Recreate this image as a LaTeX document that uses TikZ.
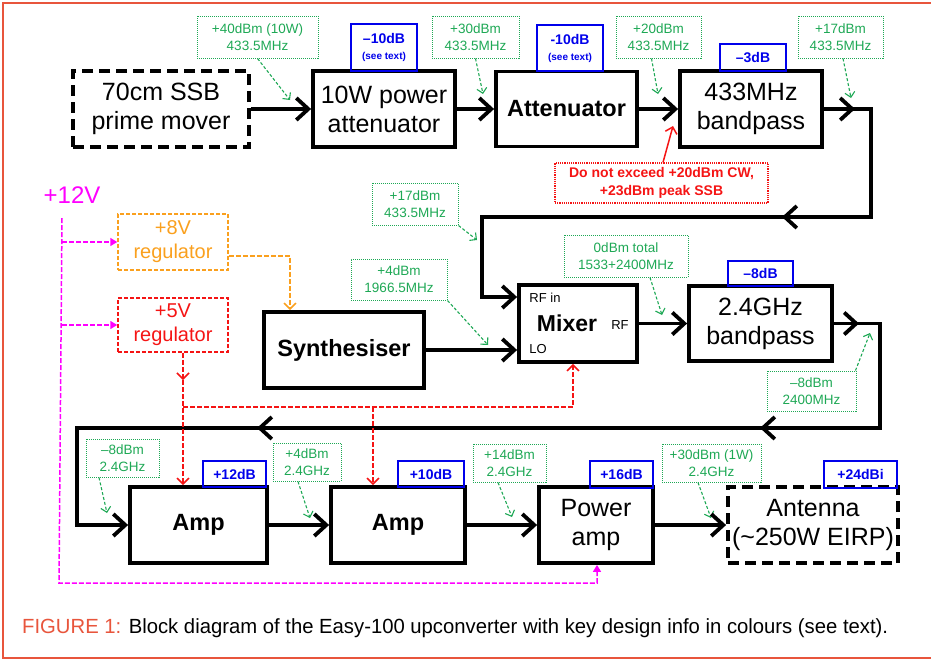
\documentclass[tikz,border=0pt]{standalone}
\usepackage{fontspec}
\setmainfont{Liberation Sans}
\usepackage{graphicx}
\usetikzlibrary{arrows.meta}
\definecolor{frameC}{RGB}{232,85,60}
\definecolor{gC}{RGB}{30,168,85}
\definecolor{bC}{RGB}{0,0,235}
\definecolor{mC}{RGB}{255,0,255}
\definecolor{oC}{RGB}{250,160,30}
\definecolor{rC}{RGB}{245,20,20}
\tikzset{
  blk/.style={draw, line width=3.8pt, align=center, inner sep=0pt, font=\fontsize{25}{29}\selectfont},
  blkb/.style={blk, font=\bfseries\fontsize{23.5}{28}\selectfont},
  dblk/.style={blk, dash pattern=on 11pt off 6pt},
  bl/.style={draw=bC, line width=1.8pt, text=bC, font=\bfseries\fontsize{14}{15}\selectfont, inner sep=0pt, align=center},
  gl/.style={draw=gC, densely dotted, line width=1pt, text=gC, font=\fontsize{13.5}{17}\selectfont, align=center, inner sep=0pt},
  ga/.style={gC, densely dashed, line width=1.1pt, -{Straight Barb[length=5pt,width=10pt]}},
  sig/.style={line width=3.8pt, line join=miter},
  sigarr/.style={sig, -{Straight Barb[length=12pt,width=22pt]}},
  reg/.style={dash pattern=on 4pt off 2pt, line width=1.5pt, align=center, inner sep=0pt, font=\fontsize{20}{24}\selectfont},
  pw/.style={mC, dash pattern=on 5pt off 2pt, line width=1.5pt},
  pwa/.style={pw, -{Triangle[length=7pt,width=8pt]}},
  oa/.style={oC, dash pattern=on 5pt off 2pt, line width=1.5pt, -{Straight Barb[length=6pt,width=12pt]}},
  ra/.style={rC, dash pattern=on 5pt off 2pt, line width=1.5pt},
  rda/.style={ra, -{Straight Barb[length=6pt,width=12pt]}},
  txt/.style={inner sep=0pt}
}
\begin{document}
\begin{tikzpicture}[x=1pt,y=-1pt]
\useasboundingbox (0,0) rectangle (931,662);
% frame
\draw[frameC, line width=2.5pt] (931,3) -- (3,3) -- (3,658) -- (931,658);

% main blocks
\node[dblk, minimum width=176pt, minimum height=76pt] (prime) at (161,109) {70cm SSB\\prime mover};
\node[blk, minimum width=142pt, minimum height=76pt] (pwratt) at (384,109) {10W power\\attenuator};
\node[blkb, minimum width=141pt, minimum height=75pt] (att) at (566.5,109) {Attenuator};
\node[blk, minimum width=142pt, minimum height=76pt] (bp433) at (751,109) {433MHz\\bandpass};
\node[blk, minimum width=118pt, minimum height=77pt] (mixer) at (578,323.5) {};
\node[blkb, minimum width=160pt, minimum height=76pt] (synth) at (344,350) {Synthesiser};
\node[blk, minimum width=143pt, minimum height=75pt] (bp24) at (760.5,323.5) {2.4GHz\\bandpass};
\node[blkb, minimum width=137pt, minimum height=76pt] (amp1) at (198.5,525) {Amp};
\node[blkb, minimum width=134pt, minimum height=76pt] (amp2) at (398,525) {Amp};
\node[blk, minimum width=114pt, minimum height=76pt] (pamp) at (596,525) {Power\\amp};
\node[dblk, minimum width=170pt, minimum height=76pt] (ant) at (813,525) {Antenna\\(\textasciitilde250W EIRP)};

% mixer texts
\node[txt, font=\bfseries\fontsize{23}{27}\selectfont] (mixt) at (567,323) {Mixer};
\node[txt, font=\fontsize{13}{15}\selectfont] (rfin) at (545,297.5) {RF in};
\node[txt, font=\fontsize{13}{15}\selectfont] (rfout) at (620,325) {RF};
\node[txt, font=\fontsize{13}{15}\selectfont] (lo) at (538,349) {LO};

% blue labels
\node[bl, minimum width=66pt, minimum height=47pt] (b1) at (384,47.5) {–10dB\\[1pt]{\fontsize{10}{11}\selectfont (see text)}};
\node[bl, minimum width=66pt, minimum height=46pt] (b2) at (570,48) {-10dB\\[1pt]{\fontsize{10}{11}\selectfont (see text)}};
\node[bl, minimum width=66pt, minimum height=27pt] (b3) at (753,57.5) {–3dB};
\node[bl, minimum width=65pt, minimum height=25pt] (b4) at (760.5,273.5) {–8dB};
\node[bl, minimum width=63pt, minimum height=26pt] (b5) at (234.5,474) {+12dB};
\node[bl, minimum width=66pt, minimum height=26pt] (b6) at (431,474) {+10dB};
\node[bl, minimum width=63pt, minimum height=27pt] (b7) at (621.5,474.5) {+16dB};
\node[bl, minimum width=73pt, minimum height=27pt] (b8) at (860.5,474.5) {+24dBi};

% green labels
\node[gl, minimum width=121pt, minimum height=42pt] (g1) at (257.5,37) {+40dBm (10W)\\433.5MHz};
\node[gl, minimum width=87pt, minimum height=42pt] (g2) at (475.5,37) {+30dBm\\433.5MHz};
\node[gl, minimum width=85pt, minimum height=42pt] (g3) at (658.5,37) {+20dBm\\433.5MHz};
\node[gl, minimum width=85pt, minimum height=42pt] (g4) at (840.5,37) {+17dBm\\433.5MHz};
\node[gl, minimum width=86pt, minimum height=42pt] (g5) at (415,204) {+17dBm\\433.5MHz};
\node[gl, minimum width=96pt, minimum height=41pt] (g6) at (399,279.5) {+4dBm\\1966.5MHz};
\node[gl, minimum width=124pt, minimum height=42pt] (g7) at (626,256) {0dBm total\\1533+2400MHz};
\node[gl, minimum width=89pt, minimum height=40pt] (g8) at (811.5,391) {–8dBm\\2400MHz};
\node[gl, minimum width=73pt, minimum height=38pt] (g9) at (122.5,458) {–8dBm\\2.4GHz};
\node[gl, minimum width=68pt, minimum height=38pt] (g10) at (307,462) {+4dBm\\2.4GHz};
\node[gl, minimum width=73pt, minimum height=38pt] (g11) at (509.5,463) {+14dBm\\2.4GHz};
\node[gl, minimum width=99pt, minimum height=38pt] (g12) at (711.5,463) {+30dBm (1W)\\2.4GHz};

% green arrow ends
\coordinate (e1) at (290,100);
\coordinate (e2) at (483,94);
\coordinate (e3) at (658,94);
\coordinate (e4) at (851,98);
\coordinate (e5) at (477,240);
\coordinate (e6) at (488,345);
\coordinate (e7) at (662,315);
\coordinate (e8) at (870,333);
\coordinate (e9) at (107,513);
\coordinate (e10) at (310,518);
\coordinate (e11) at (512,517);
\coordinate (e12) at (711,518);
\draw[ga] (g1.south) -- (e1);
\draw[ga] (g2.south) -- (e2);
\draw[ga] ([xshift=-7pt]g3.south) -- (e3);
\draw[ga] ([xshift=2.5pt]g4.south) -- (e4);
\draw[ga] (g5.south east) -- (e5);
\draw[ga] (g6.south east) -- (e6);
\draw[ga] ([xshift=24pt]g7.south) -- (e7);
\draw[ga] ([xshift=-1pt]g8.north east) -- (e8);
\draw[ga] ([xshift=-23.5pt]g9.south) -- (e9);
\draw[ga] ([xshift=-9pt]g10.south) -- (e10);
\draw[ga] ([xshift=-11.5pt]g11.south) -- (e11);
\draw[ga] ([xshift=-13.5pt]g12.south) -- (e12);

% red note
\node[draw=rC, densely dotted, line width=1.2pt, text=rC, align=center, inner sep=0pt,
  font=\bfseries\fontsize{14}{18}\selectfont, minimum width=213pt, minimum height=40pt] (note) at (661.5,183)
  {Do not exceed +20dBm CW,\\+23dBm peak SSB};
\coordinate (noteend) at (673,126);
\draw[rC, line width=1.5pt, -{Straight Barb[length=6pt,width=12pt]}] ([xshift=1.5pt]note.north) -- (noteend);

% signal path
\draw[sigarr] (prime.east) -- (pwratt.west);
\draw[sigarr] (pwratt.east) -- (att.west);
\draw[sigarr] (att.east) -- (bp433.west);
\coordinate (c1) at (871,109);
\coordinate (c2) at (871,217);
\coordinate (c3) at (482,217);
\coordinate (c1a) at (855,109);
\coordinate (c2a) at (782,217);
\draw[sigarr] (bp433.east) -- (c1) -- (c2) -- (c3) |- ([yshift=26.5pt]mixer.west);
\draw[sigarr] (bp433.east) -- (c1a);
\draw[sigarr] (c2) -- (c2a);
\draw[sigarr] (synth.east) -- (synth.east -| mixer.west);
\draw[sigarr] (mixer.east) -- (bp24.west);
\coordinate (d1) at (880,323.5);
\coordinate (d2) at (880,428);
\coordinate (d3) at (77,428);
\coordinate (d1a) at (859,323.5);
\coordinate (d2a) at (760,428);
\coordinate (d2b) at (257,428);
\draw[sigarr] (bp24.east) -- (d1) -- (d2) -- (d3) |- (amp1.west);
\draw[sigarr] (bp24.east) -- (d1a);
\draw[sigarr] (d2) -- (d2a);
\draw[sigarr] (d2) -- (d2b);
\draw[sigarr] (amp1.east) -- (amp2.west);
\draw[sigarr] (amp2.east) -- (pamp.west);
\draw[sigarr] (pamp.east) -- (ant.west);

% power supply
\node[txt, text=mC, font=\fontsize{24}{28}\selectfont] (v12) at (72,195) {+12V};
\node[reg, draw=oC, text=oC, minimum width=110pt, minimum height=56pt] (reg8) at (173,242) {+8V\\regulator};
\node[reg, draw=rC, text=rC, minimum width=110pt, minimum height=54pt] (reg5) at (173,325) {+5V\\regulator};
\coordinate (p0) at (62,218);
\coordinate (p1) at (59,583);
\draw[pwa] (p0) -- (p1) -| ([xshift=1pt]pamp.south);
\draw[pwa] (p0 |- reg8.west) -- (reg8.west);
\draw[pwa] (p0 |- reg5.west) -- (reg5.west);
\draw[oa] ([yshift=-14pt]reg8.east) -| ([xshift=-54pt]synth.north);
\coordinate (rm) at (183,380);
\coordinate (r1) at (183,407);
\coordinate (r2) at (373,407);
\draw[rda] ([xshift=10pt]reg5.south) -- (rm);
\draw[rda] (rm) -- (amp1.north -| rm);
\draw[rda] (r1) -| ([xshift=-5pt]mixer.south);
\draw[rda] (r2) -- (amp2.north -| r2);

% caption
\node[txt, anchor=base west] (cap) at (22,633) {\resizebox{866pt}{\height}{\fontsize{20.5}{24}\selectfont{\color{frameC}FIGURE 1:} Block diagram of the Easy-100 upconverter with key design info in colours (see text).}};
\end{tikzpicture}
\end{document}
